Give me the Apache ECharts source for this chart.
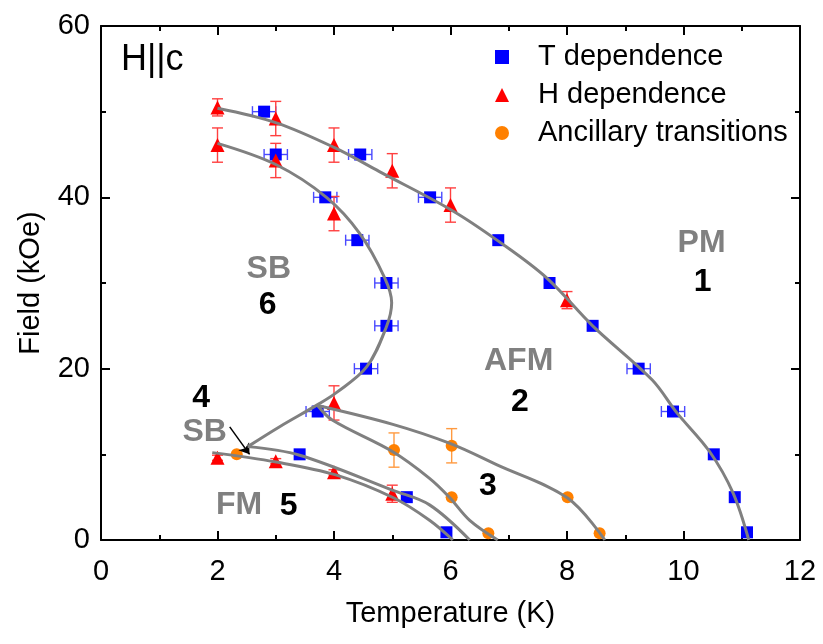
<!DOCTYPE html>
<html>
<head>
<meta charset="utf-8">
<script src="https://cdn.jsdelivr.net/npm/echarts@6/dist/echarts.min.js"></script>
<style>html,body{margin:0;padding:0;background:#fff}#c{width:823px;height:644px}</style>
</head>
<body>
<div id="c"></div>
<script>
// ---- Data ----
// T dependence (blue squares), horizontal error in K
const tempT = [2.8, 3.0, 4.45, 3.85, 5.65, 4.4, 6.82, 4.9, 7.7, 4.9, 8.44, 4.55, 9.23, 3.72, 9.82, 3.41, 10.52, 5.25, 10.88, 5.93, 11.09];
const tempH = [50, 45, 45, 40, 40, 35, 35, 30, 30, 25, 25, 20, 20, 15, 15, 10, 10, 5, 5, 0.9, 0.9];
const tempErr = [0.2, 0.2, 0.2, 0.2, 0.2, 0.2, 0, 0.2, 0, 0.2, 0, 0.2, 0.2, 0.2, 0.2, 0, 0, 0, 0, 0, 0];
// H dependence (red triangles), vertical error in kOe
const fieldT = [2, 3, 2, 3, 4, 5, 6, 4, 8, 4, 2, 3, 4, 5];
const fieldH = [50.5, 49.2, 46.1, 44.3, 46.1, 43.1, 39.1, 38.1, 28, 16, 9.6, 9.2, 7.9, 5.4];
const fieldErr = [1, 2, 2, 2, 2, 2, 2, 2, 1, 2, 0.3, 0.3, 0.3, 1];
// Ancillary transitions (orange circles)
const ancT = [2.33, 5.03, 6.02, 6.02, 6.65, 8.01, 8.56];
const ancH = [10, 10.5, 11, 5, 0.8, 5, 0.8];
const ancErr = [0, 2, 2, 0, 0, 0, 0];
// Phase boundary guide curves [T, H]
const curvePM = [[2.0,50.4],[3.01,48.7],[4.01,45.8],[4.78,43.0],[6.02,38.5],[6.84,34.8],[7.65,30.6],[8.44,25.0],[9.46,18.7],[9.88,14.9],[10.45,10.3],[10.85,5.5],[11.12,0]];
const curveSB6 = [[2.0,46.3],[3.01,43.8],[3.87,40.0],[4.44,35.8],[4.87,30.6],[4.99,27.7],[4.9,24.9],[4.56,20.2],[4.04,17.2],[3.72,15.8],[3.06,13.2],[2.52,10.9]];
const curveAFM3 = [[3.72,15.7],[5.01,13.5],[5.98,11.3],[6.79,8.8],[8.01,4.9],[8.65,0]];
const curve3 = [[3.72,15.7],[3.97,14.0],[5.01,10.3],[5.64,7.2],[5.98,5.0],[6.33,2.3],[6.81,0]];
const curveSB4 = [[2.52,10.9],[3.41,9.9],[5.01,5.8],[5.64,4.1],[6.33,0]];
const curveFM = [[1.91,10.2],[3.01,9.1],[4.03,7.6],[5.03,4.9],[5.64,2.3],[6.04,0]];
const arrowFrom = [2.21, 13.2], arrowTo = [2.55, 10.0];
// Axis ticks
const xTicks = {min: 0, max: 12, step: 2, minorStep: 1};
const yTicks = {min: 0, max: 60, step: 20, minorStep: 10};
// Region annotations
const grayLabels = [[10.31,34.6,'PM'],[2.88,31.6,'SB'],[7.17,20.9,'AFM'],[1.78,12.6,'SB'],[2.37,4.1,'FM']];
const blackLabels = [[10.33,30.1,'1'],[2.86,27.4,'6'],[7.19,16.1,'2'],[1.72,16.6,'4'],[3.22,4.0,'5'],[6.64,6.3,'3']];
const titleLabel = [[0.88,56.0,'H||c']];

const FONT = 'Liberation Sans, Arial, Helvetica, sans-serif';

function zip(a, b) { return a.map((v, i) => [v, b[i]]); }

function errSeries(name, xs, ys, errs, dir, color) {
  const data = [];
  xs.forEach((x, i) => { if (errs[i] > 0) data.push([x, ys[i], errs[i]]); });
  return {
    type: 'custom', name: name, z: 2, silent: true,
    encode: {x: 0, y: 1},
    data: data,
    renderItem: function (params, api) {
      const x = api.value(0), y = api.value(1), e = api.value(2);
      const cap = 5.5;
      let p1, p2, ch = [];
      const st = {stroke: color, lineWidth: 1.4};
      if (dir === 'x') {
        p1 = api.coord([x - e, y]); p2 = api.coord([x + e, y]);
        ch.push({type: 'line', shape: {x1: p1[0], y1: p1[1] - cap, x2: p1[0], y2: p1[1] + cap}, style: st});
        ch.push({type: 'line', shape: {x1: p2[0], y1: p2[1] - cap, x2: p2[0], y2: p2[1] + cap}, style: st});
      } else {
        p1 = api.coord([x, y - e]); p2 = api.coord([x, y + e]);
        ch.push({type: 'line', shape: {x1: p1[0] - cap, y1: p1[1], x2: p1[0] + cap, y2: p1[1]}, style: st});
        ch.push({type: 'line', shape: {x1: p2[0] - cap, y1: p2[1], x2: p2[0] + cap, y2: p2[1]}, style: st});
      }
      ch.push({type: 'line', shape: {x1: p1[0], y1: p1[1], x2: p2[0], y2: p2[1]}, style: st});
      return {type: 'group', children: ch};
    }
  };
}

function curve(pts) {
  return {
    type: 'line', data: pts, smooth: 0.35, showSymbol: false, symbol: 'none', silent: true, z: 5,
    lineStyle: {color: '#808080', width: 3}
  };
}

function labelSeries(items, color, size, weight) {
  return {
    type: 'scatter', data: items, symbolSize: 0, silent: true, z: 6,
    itemStyle: {color: color, opacity: 1},
    label: {show: true, position: 'inside', formatter: p => p.value[2], color: color, opacity: 1,
      fontSize: size, fontWeight: weight, fontFamily: FONT, textBorderWidth: 0}
  };
}

function frameAxis(pos, t, major, extra) {
  const a = {
    type: 'value', position: pos, min: t.min, max: t.max,
    interval: major ? t.step : t.minorStep,
    axisLine: {show: major, onZero: false, lineStyle: {color: '#000', width: 2}},
    axisTick: {show: true, inside: true, length: major ? 9 : 5, lineStyle: {color: '#000', width: 2}},
    axisLabel: {show: false},
    splitLine: {show: false}
  };
  return Object.assign(a, extra || {});
}

const chart = echarts.init(document.getElementById('c'), null, {renderer: 'canvas'});
chart.setOption({
  animation: false,
  backgroundColor: '#fff',
  grid: {left: 101, right: 23, top: 26, bottom: 104},
  legend: {
    orient: 'vertical', left: 490, top: 37, itemWidth: 14, itemHeight: 14, itemGap: 8,
    data: ['T dependence', 'H dependence', 'Ancillary transitions'],
    textStyle: {fontSize: 29, color: '#000', fontFamily: FONT, lineHeight: 30, padding: [0, 0, 0, 24]}
  },
  xAxis: [
    frameAxis('bottom', xTicks, true, {
      name: 'Temperature (K)', nameLocation: 'middle', nameGap: 59,
      nameTextStyle: {fontSize: 29, color: '#000', fontFamily: FONT},
      axisLabel: {show: true, fontSize: 29, color: '#000', fontFamily: FONT, margin: 17}}),
    frameAxis('top', xTicks, true),
    frameAxis('bottom', xTicks, false),
    frameAxis('top', xTicks, false)
  ],
  yAxis: [
    frameAxis('left', yTicks, true, {
      name: 'Field (kOe)', nameLocation: 'middle', nameGap: 56, nameRotate: 90,
      nameTextStyle: {fontSize: 29, color: '#000', fontFamily: FONT},
      axisLabel: {show: true, fontSize: 29, color: '#000', fontFamily: FONT, margin: 11}}),
    frameAxis('right', yTicks, true),
    frameAxis('left', yTicks, false),
    frameAxis('right', yTicks, false)
  ],
  series: [
    errSeries('errT', tempT, tempH, tempErr, 'x', '#4a4aff'),
    errSeries('errH', fieldT, fieldH, fieldErr, 'y', '#ff4040'),
    errSeries('errA', ancT, ancH, ancErr, 'y', '#ff9a40'),
    {name: 'T dependence', type: 'scatter', data: zip(tempT, tempH), symbol: 'rect', symbolSize: 12, z: 3,
      itemStyle: {color: '#0000ff', opacity: 1}},
    {name: 'H dependence', type: 'scatter', data: zip(fieldT, fieldH), symbol: 'triangle', symbolSize: 14, z: 3,
      itemStyle: {color: '#ff0000', opacity: 1}},
    {name: 'Ancillary transitions', type: 'scatter', data: zip(ancT, ancH), symbol: 'circle', symbolSize: 12, z: 3,
      itemStyle: {color: '#ff8000', opacity: 1}},
    curve(curvePM), curve(curveSB6), curve(curveAFM3), curve(curve3), curve(curveSB4), curve(curveFM),
    {type: 'line', data: [], silent: true, z: 6,
      markLine: {silent: true, symbol: ['none', 'arrow'], symbolSize: 10, label: {show: false},
        lineStyle: {color: '#000', width: 1.5, type: 'solid'},
        data: [[{coord: arrowFrom}, {coord: arrowTo}]]}},
    labelSeries(grayLabels, '#808080', 32, 'bold'),
    labelSeries(blackLabels, '#000000', 32, 'bold'),
    labelSeries(titleLabel, '#000000', 36, 'normal')
  ]
});
</script>
</body>
</html>
